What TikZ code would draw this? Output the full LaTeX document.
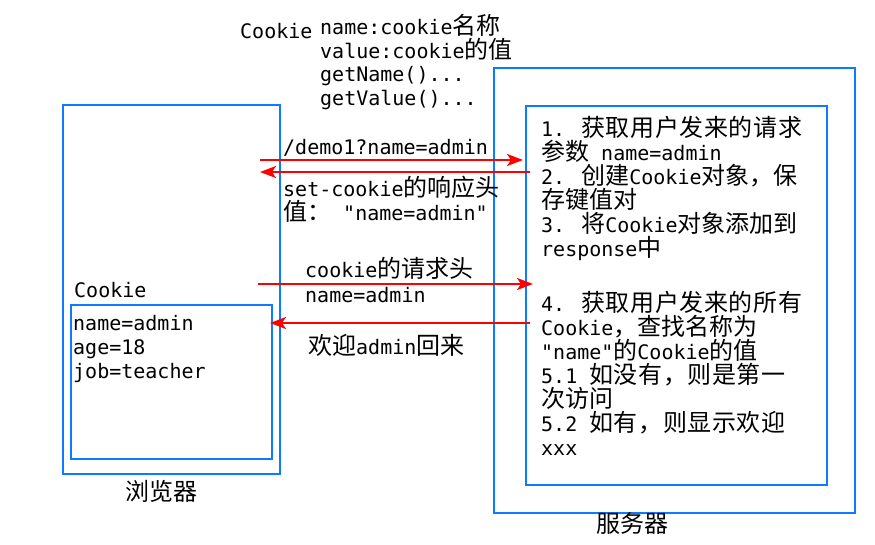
\documentclass[tikz,border=0pt]{standalone}
\usepackage{fontspec}
\usetikzlibrary{arrows.meta}
\newfontfamily\monof{DejaVu Sans Mono}
\newfontfamily\cjkf{Noto Sans CJK SC}
\definecolor{boxblue}{RGB}{10,124,255}
\definecolor{arrred}{RGB}{255,0,0}
\newcommand\zh[1]{{\cjkf\fontsize{24}{24}\selectfont #1}}
\newdimen\zsgap \zsgap=0.6pt
\makeatletter
\newcommand\zs[1]{{\cjkf\fontsize{24}{24}\selectfont\zs@loop#1\relax}}
\def\zs@loop#1{\ifx\relax#1\else#1\kern\zsgap\relax\expandafter\zs@loop\fi}
\makeatother
\tikzset{
  boxnode/.style={draw=boxblue, line width=2pt, inner sep=0pt, anchor=north west},
  txt/.style={anchor=base west, inner sep=0pt, font=\monof\fontsize{20}{24}\selectfont},
  lbl/.style={inner sep=0pt},
  arr/.style={draw=arrred, line width=2.2pt, -{Stealth[length=16pt,width=12pt,inset=4pt]}}
}
\begin{document}
\begin{tikzpicture}[x=1pt,y=-1pt]
\useasboundingbox (0,0) rectangle (875,545);
% boxes
\node[boxnode, minimum width=217pt, minimum height=369pt] (browser) at (62,104) {};
\node[boxnode, minimum width=201pt, minimum height=154pt] (cookiebox) at (70,304) {};
\node[boxnode, minimum width=361pt, minimum height=445pt] (server) at (493,67) {};
\node[boxnode, minimum width=301pt, minimum height=379pt] (serverin) at (525,105) {};
% top labels
\node[txt] (ck) at (240,38.5) {Cookie};
\node[txt] (ck1) at (320,35) {name:cookie\zh{名称}};
\node[txt] (ck2) at (320,58.5) {value:cookie\zh{的值}};
\node[txt] (ck3) at (320,82) {getName()...};
\node[txt] (ck4) at (320,105.5) {getValue()...};
% arrow labels
\node[txt] (l1) at (283,155) {/demo1?name=admin};
\node[txt] (l2) at (283,197) {set-cookie\zh{的响应头}};
\node[txt] (l3) at (283,220.5) {\zh{值：}~"name=admin"};
\node[txt] (l4) at (305,278) {cookie\zh{的请求头}};
\node[txt] (l5) at (305,302.5) {name=admin};
\node[txt] (l6) at (308,354) {\zh{欢迎}admin\zh{回来}};
% browser contents
\node[txt] (bc) at (74,298) {Cookie};
\node[txt] (b1) at (73,330) {name=admin};
\node[txt] (b2) at (73,354) {age=18};
\node[txt] (b3) at (73,378) {job=teacher};
\node[lbl] (bname) at (161,491) {\zh{浏览器}};
% server contents
\node[txt] (s1) at (541,137) {1. \zs{获取用户发来的请求}};
\node[txt] (s2) at (541,161) {\zh{参数} name=admin};
\node[txt] (s3) at (541,185) {2. \zh{创建}Cookie\zh{对象，保}};
\node[txt] (s4) at (541,209) {\zh{存键值对}};
\node[txt] (s5) at (541,233) {3. \zh{将}Cookie\zh{对象添加到}};
\node[txt] (s6) at (541,257) {response\zh{中}};
\node[txt] (s7) at (541,311) {4. \zs{获取用户发来的所有}};
\node[txt] (s8) at (541,335) {Cookie\zh{，查找名称为}};
\node[txt] (s9) at (541,359) {"name"\zh{的}Cookie\zh{的值}};
\node[txt] (s10) at (541,383) {5.1 \zs{如没有，则是第一}};
\node[txt] (s11) at (541,407) {\zh{次访问}};
\node[txt] (s12) at (541,431) {5.2 \zs{如有，则显示欢迎}};
\node[txt] (s13) at (541,455) {xxx};
\node[lbl] (sname) at (632,523) {\zh{服务器}};
% arrows
\coordinate (a1s) at (260,160);
\coordinate (a1e) at (523,160);
\coordinate (a2s) at (530,172);
\coordinate (a2e) at (260,172);
\coordinate (a3s) at (258,284);
\coordinate (a3e) at (533,284);
\coordinate (a4s) at (530,323);
\coordinate (a4e) at (270,323);
\draw[arr] (a1s) -- (a1e);
\draw[arr] (a2s) -- (a2e);
\draw[arr] (a3s) -- (a3e);
\draw[arr] (a4s) -- (a4e);
\end{tikzpicture}
\end{document}
